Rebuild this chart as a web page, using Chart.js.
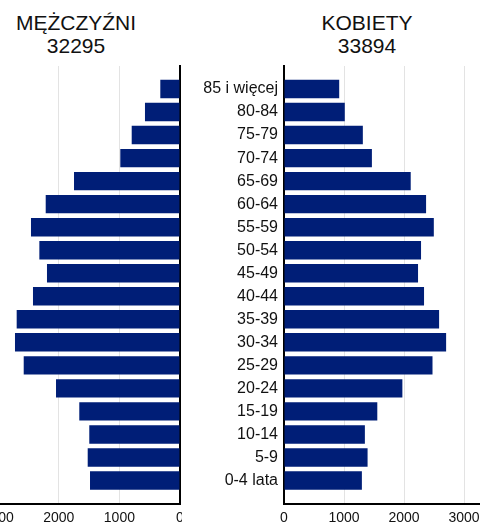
<!DOCTYPE html>
<html>
<head>
<meta charset="utf-8">
<script src="https://cdn.jsdelivr.net/npm/chart.js@4"></script>
<style>
  html, body { margin: 0; padding: 0; background: #fff; overflow: hidden; }
  body { width: 481px; height: 525px; position: relative; font-family: "Liberation Sans", Arial, sans-serif; }
  .title { position: absolute; top: 11px; width: 200px; text-align: center; font-size: 21px; line-height: 23px; color: #111; }
  #leftBox { position: absolute; left: -38px; top: 0; width: 220px; height: 525px; }
  #rightBox { position: absolute; left: 188px; top: 0; width: 300px; height: 525px; }
</style>
</head>
<body>
<div class="title" style="left:-24px">MĘŻCZYŹNI<br>32295</div>
<div class="title" style="left:267px">KOBIETY<br>33894</div>
<div id="leftBox"><canvas id="men"></canvas></div>
<div id="rightBox"><canvas id="women"></canvas></div>
<script>
// grupy wieku, od najstarszej (gora) do najmlodszej (dol)
const ageGroups = ["85 i więcej", "80-84", "75-79", "70-74", "65-69", "60-64", "55-59", "50-54", "45-49",
  "40-44", "35-39", "30-34", "25-29", "20-24", "15-19", "10-14", "5-9", "0-4 lata"];
const men = [325, 578, 797, 985, 1749, 2216, 2459, 2321, 2195,
  2426, 2695, 2723, 2579, 2046, 1662, 1497, 1523, 1485];
const women = [920, 1013, 1314, 1465, 2112, 2368, 2497, 2284, 2234,
  2334, 2585, 2702, 2475, 1973, 1555, 1348, 1393, 1298];
const xTicks = [0, 1000, 2000, 3000];

const barColor = "#001e77";
const fontName = "'Liberation Sans', Arial, sans-serif";

function toPoints(values) {
  return values.map((v, i) => ({ x: v, y: i }));
}

function makeChart(id, values, side) {
  const isLeft = side === "left";
  const ctx = document.getElementById(id).getContext("2d");
  return new Chart(ctx, {
    type: "bar",
    data: {
      datasets: [{
        data: toPoints(values),
        backgroundColor: barColor,
        borderWidth: 0,
        barPercentage: 0.8,
        categoryPercentage: 1,
      }],
    },
    options: {
      indexAxis: "y",
      responsive: true,
      maintainAspectRatio: false,
      animation: false,
      layout: {
        padding: isLeft ? { left: 36.2, right: 2, top: 66, bottom: 0 } : { left: 0, right: 9, top: 66, bottom: 0 },
      },
      plugins: { legend: { display: false }, tooltip: { enabled: false } },
      scales: {
        x: {
          type: "linear",
          reverse: isLeft,
          min: 0,
          max: isLeft ? 3000 : 3250,
          afterBuildTicks: (scale) => { scale.ticks = xTicks.map((v) => ({ value: v })); },
          grid: { color: "#e3e3e3", lineWidth: 1, drawTicks: false },
          border: { color: "#000", width: 2 },
          ticks: {
            padding: 6,
            color: "#111",
            font: { family: fontName, size: 14 },
            maxRotation: 0,
            callback: (v) => String(v),
          },
          afterFit: (scale) => { scale.height = 21.5; },
        },
        y: {
          type: "linear",
          position: isLeft ? "right" : "left",
          reverse: true,
          offset: false,
          min: -1,
          max: 18,
          grid: { display: false, drawTicks: false },
          border: { color: "#000", width: 2 },
          ticks: {
            display: !isLeft,
            stepSize: 1,
            autoSkip: false,
            padding: 6,
            color: "#111",
            font: { family: fontName, size: 16 },
            callback: (v) => ageGroups[v] || "",
          },
          afterFit: (scale) => { scale.width = isLeft ? 0 : 96; },
        },
      },
    },
  });
}

makeChart("men", men, "left");
makeChart("women", women, "right");
</script>
</body>
</html>
